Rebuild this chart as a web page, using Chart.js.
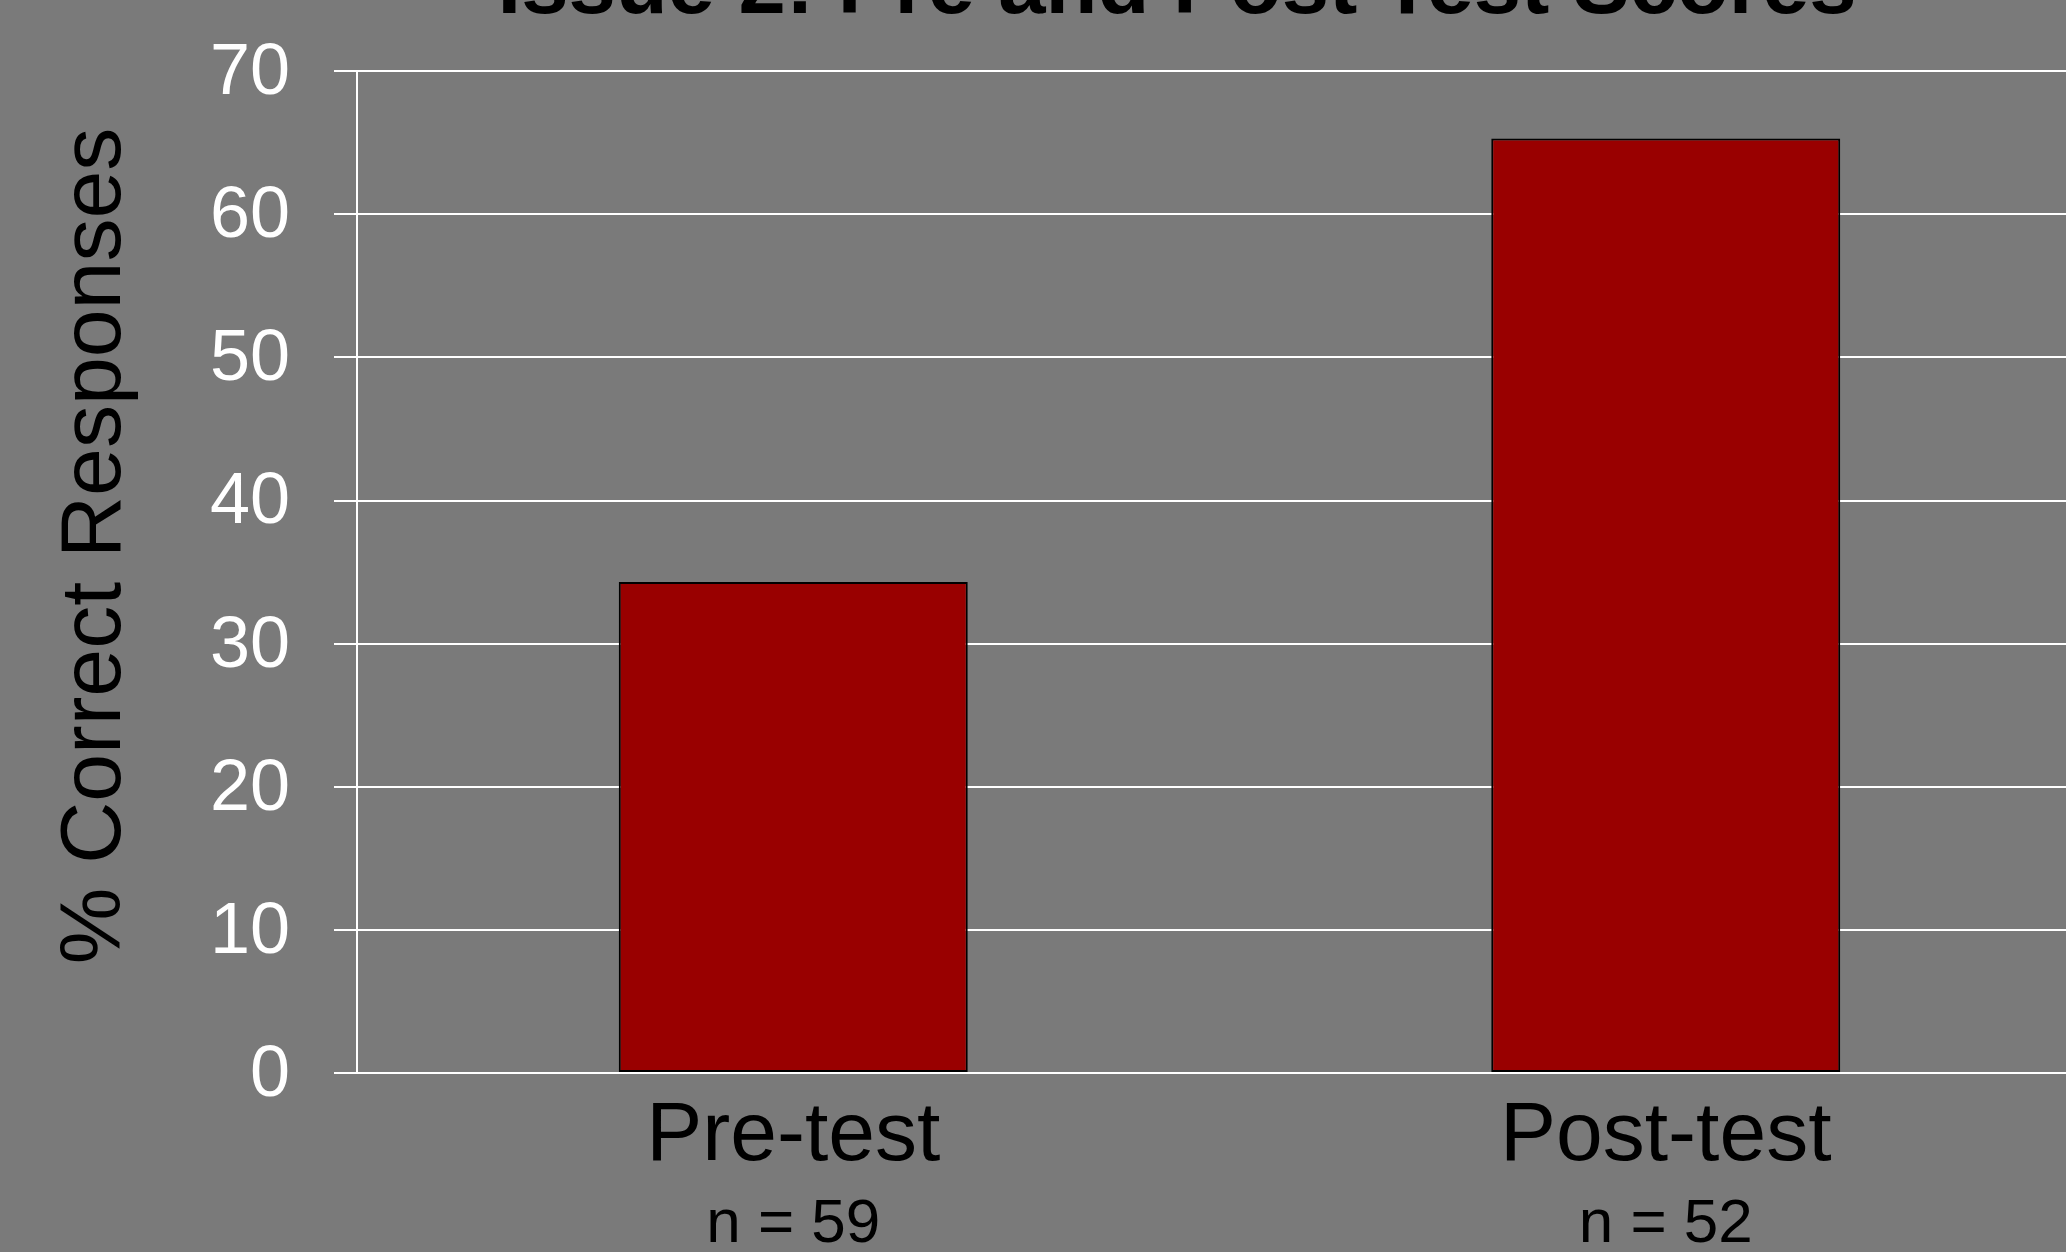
<!DOCTYPE html>
<html>
<head>
<meta charset="utf-8">
<title>Issue 2: Pre and Post Test Scores</title>
<script src="https://cdn.jsdelivr.net/npm/chart.js@4.4.1/dist/chart.umd.min.js"></script>
<style>
  html, body { margin: 0; padding: 0; overflow: hidden; background: #7a7a7a; }
  canvas { display: block; margin-top: -16px; }
</style>
</head>
<body>
<canvas id="chart" width="2102" height="1316"></canvas>
<script>
// Test groups, their sample sizes and the share of correct answers
const categories = ['Pre-test', 'Post-test'];
const sampleSizes = ['n = 59', 'n = 52'];
const correctPct = [34.3, 65.3];

// Value axis
const yMin = 0;
const yMax = 70;
const yStep = 10;

const chartTitle = 'Issue 2: Pre and Post Test Scores';
const yAxisTitle = '% Correct Responses';

const FONT = '"Liberation Sans", Arial, Helvetica, sans-serif';

// Chart heading and rotated value-axis caption
const captions = {
  id: 'captions',
  afterDraw(chart) {
    const ctx = chart.ctx;
    ctx.save();
    ctx.fillStyle = '#000000';
    ctx.textAlign = 'center';
    ctx.textBaseline = 'alphabetic';
    ctx.font = 'bold 85px ' + FONT;
    ctx.fillText(chartTitle, 1177, 29);

    ctx.translate(120, 562);
    ctx.rotate(-Math.PI / 2);
    ctx.font = '86px ' + FONT;
    ctx.fillText(yAxisTitle, 0, 0);
    ctx.restore();
  }
};

new Chart(document.getElementById('chart'), {
  type: 'bar',
  data: {
    labels: categories,
    datasets: [{
      label: yAxisTitle,
      data: correctPct,
      backgroundColor: '#990000',
      borderColor: '#000000',
      borderWidth: 2,
      borderSkipped: false,
      barPercentage: 0.4,
      categoryPercentage: 1.0
    }]
  },
  options: {
    responsive: false,
    animation: false,
    layout: { padding: 0 },
    plugins: {
      legend: { display: false },
      title: { display: false },
      tooltip: { enabled: false }
    },
    scales: {
      x: {
        position: 'bottom',
        weight: 0,
        offset: true,
        grid: { display: false, drawTicks: false },
        border: { display: false },
        ticks: {
          color: '#000000',
          padding: 13,
          maxRotation: 0,
          font: { family: FONT, size: 84 }
        },
        afterFit(scale) { scale.height = 100; }
      },
      x2: {
        type: 'category',
        position: 'bottom',
        weight: 1,
        offset: true,
        labels: sampleSizes,
        grid: { display: false, drawTicks: false },
        border: { display: false },
        ticks: {
          color: '#000000',
          padding: 15,
          maxRotation: 0,
          font: { family: FONT, size: 62 }
        },
        afterFit(scale) { scale.height = 127; }
      },
      y: {
        min: yMin,
        max: yMax,
        ticks: {
          stepSize: yStep,
          color: '#ffffff',
          padding: 44,
          labelOffset: 3,
          font: { family: FONT, size: 72 }
        },
        grid: {
          color: '#ffffff',
          lineWidth: 2,
          drawTicks: true,
          tickLength: 23,
          tickColor: '#ffffff'
        },
        border: { display: true, color: '#ffffff', width: 2 },
        afterFit(scale) { scale.width = 357; }
      }
    }
  },
  plugins: [captions]
});
</script>
</body>
</html>
